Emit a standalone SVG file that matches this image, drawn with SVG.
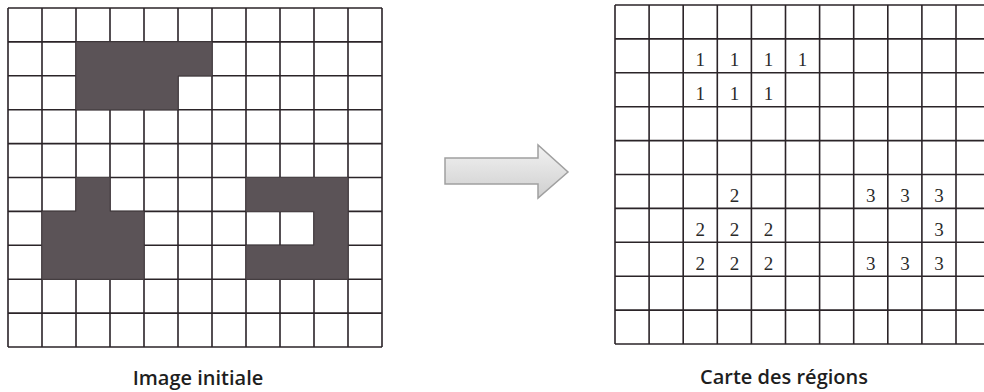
<svg xmlns="http://www.w3.org/2000/svg" width="984" height="392" viewBox="0 0 984 392">
<style>
.grid{fill:none;stroke:#2b2428;stroke-width:1.6}
.dark{fill:#5b5357;stroke:#4a4346;stroke-width:1}
.num{font-family:"Liberation Serif","Times New Roman",serif;font-size:19px;fill:#2a2a2a;text-anchor:middle}
.lbl{font-family:"Open Sans","Liberation Sans",sans-serif;font-size:20px;font-weight:600;fill:#1e1e1e;text-anchor:middle}
</style>
<defs>
<linearGradient id="ag" x1="0" y1="0" x2="0" y2="1">
<stop offset="0" stop-color="#f2f2f2"/>
<stop offset="1" stop-color="#cfcfcf"/>
</linearGradient>
</defs>
<rect width="984" height="392" fill="#ffffff"/>
<g id="image-initiale">
<path class="grid" d="M8 8V347M42 8V347M76 8V347M110 8V347M144 8V347M178 8V347M212 8V347M246 8V347M280 8V347M314 8V347M348 8V347M382 8V347M8 8H382M8 41.9H382M8 75.8H382M8 109.7H382M8 143.6H382M8 177.5H382M8 211.4H382M8 245.3H382M8 279.2H382M8 313.1H382M8 347H382"/>
<path class="dark" d="M76 41.9H212V75.8H178V109.7H76Z"/>
<path class="dark" d="M76 177.5H110V211.4H144V279.2H42V211.4H76Z"/>
<path class="dark" d="M246 177.5H348V279.2H246V245.3H314V211.4H246Z"/>
</g>
<g id="arrow">
<polygon points="445,158 538,158 538,145 568,172 538,198 538,184 445,184" fill="url(#ag)" stroke="#a0a0a0" stroke-width="1.5"/>
</g>
<g id="carte-des-regions">
<path class="grid" d="M615 5V344M649.1 5V344M683.2 5V344M717.3 5V344M751.4 5V344M785.5 5V344M819.6 5V344M853.7 5V344M887.8 5V344M921.9 5V344M956 5V344M615 5H984M615 38.9H984M615 72.8H984M615 106.7H984M615 140.6H984M615 174.5H984M615 208.4H984M615 242.3H984M615 276.2H984M615 310.1H984M615 344H984"/>
<text class="num" x="700.3" y="66">1</text>
<text class="num" x="734.4" y="66">1</text>
<text class="num" x="768.5" y="66">1</text>
<text class="num" x="802.6" y="66">1</text>
<text class="num" x="700.3" y="100">1</text>
<text class="num" x="734.4" y="100">1</text>
<text class="num" x="768.5" y="100">1</text>
<text class="num" x="734.4" y="202">2</text>
<text class="num" x="700.3" y="236">2</text>
<text class="num" x="734.4" y="236">2</text>
<text class="num" x="768.5" y="236">2</text>
<text class="num" x="700.3" y="270">2</text>
<text class="num" x="734.4" y="270">2</text>
<text class="num" x="768.5" y="270">2</text>
<text class="num" x="870.8" y="202">3</text>
<text class="num" x="904.9" y="202">3</text>
<text class="num" x="939" y="202">3</text>
<text class="num" x="939" y="236">3</text>
<text class="num" x="870.8" y="270">3</text>
<text class="num" x="904.9" y="270">3</text>
<text class="num" x="939" y="270">3</text>
</g>
<g id="labels">
<text class="lbl" x="198" y="385">Image initiale</text>
<text class="lbl" x="784" y="384">Carte des régions</text>
</g>
</svg>
